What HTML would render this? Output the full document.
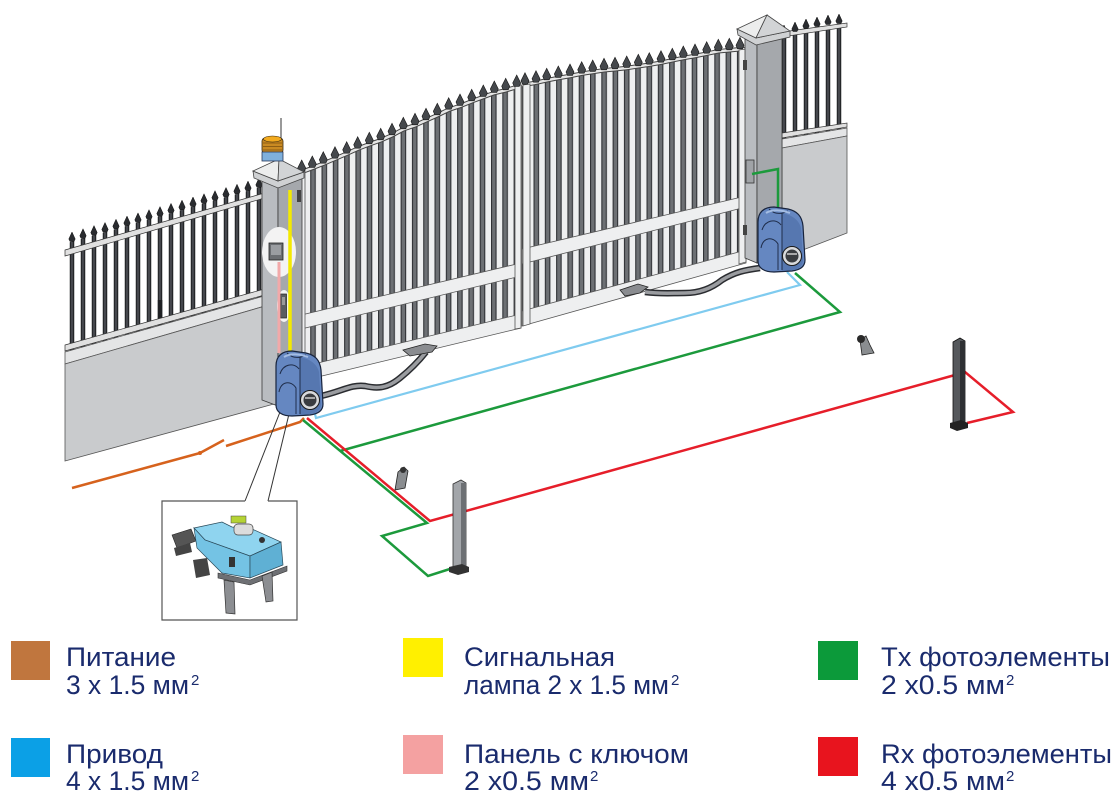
<!DOCTYPE html>
<html><head><meta charset="utf-8">
<style>
html,body{margin:0;padding:0;background:#fff;}
svg{display:block;}
.lg{font-family:"Liberation Sans","DejaVu Sans",sans-serif;fill:#1a2b6d;font-size:27px;}
.sp{font-family:"Liberation Sans","DejaVu Sans",sans-serif;fill:#1a2b6d;font-size:15px;}
</style></head><body>
<svg width="1117" height="796" viewBox="0 0 1117 796" xmlns="http://www.w3.org/2000/svg">
<defs>
<pattern id="pfl" patternUnits="userSpaceOnUse" x="69.75" y="0" width="11" height="20"><rect width="4.5" height="20" fill="#1f2124"/><rect x="1.2" width="2" height="20" fill="#4a4d52"/></pattern>
<pattern id="pfr" patternUnits="userSpaceOnUse" x="792.75" y="0" width="11" height="20"><rect width="4.5" height="20" fill="#1f2124"/><rect x="1.2" width="2" height="20" fill="#4a4d52"/></pattern>
<pattern id="pgl" patternUnits="userSpaceOnUse" x="298.9" y="0" width="11.3" height="20"><rect width="5.6" height="20" fill="#2f3135"/><rect x="1.1" width="3.4" height="20" fill="#6d7074"/></pattern>
<pattern id="pgr" patternUnits="userSpaceOnUse" x="522.2" y="0" width="11.3" height="20"><rect width="5.6" height="20" fill="#2f3135"/><rect x="1.1" width="3.4" height="20" fill="#6d7074"/></pattern>
</defs>
<rect width="1117" height="796" fill="#fff"/>

<!-- LEFT FENCE -->
<polygon points="67,243 264,186 264,296 67,352" fill="url(#pfl)"/>
<rect x="157.8" y="300" width="4.5" height="42" fill="#1f2124"/>
<polygon points="65,250 268,192 268,197 65,256" fill="#e0e0e0" stroke="#333" stroke-width="0.7"/>
<polygon points="65,345 268,288 268,294 65,351" fill="#e0e0e0" stroke="#333" stroke-width="0.7"/>
<path fill="#2a2c30" stroke="#111" stroke-width="0.5" d="M72,232l3.2,7l-1.2,2.5h-4l-1.2,-2.5zM83,228.8l3.2,7l-1.2,2.5h-4l-1.2,-2.5zM94,225.6l3.2,7l-1.2,2.5h-4l-1.2,-2.5zM105,222.5l3.2,7l-1.2,2.5h-4l-1.2,-2.5zM116,219.3l3.2,7l-1.2,2.5h-4l-1.2,-2.5zM127,216.1l3.2,7l-1.2,2.5h-4l-1.2,-2.5zM138,212.9l3.2,7l-1.2,2.5h-4l-1.2,-2.5zM149,209.7l3.2,7l-1.2,2.5h-4l-1.2,-2.5zM160,206.6l3.2,7l-1.2,2.5h-4l-1.2,-2.5zM171,203.4l3.2,7l-1.2,2.5h-4l-1.2,-2.5zM182,200.2l3.2,7l-1.2,2.5h-4l-1.2,-2.5zM193,197l3.2,7l-1.2,2.5h-4l-1.2,-2.5zM204,193.8l3.2,7l-1.2,2.5h-4l-1.2,-2.5zM215,190.7l3.2,7l-1.2,2.5h-4l-1.2,-2.5zM226,187.5l3.2,7l-1.2,2.5h-4l-1.2,-2.5zM237,184.3l3.2,7l-1.2,2.5h-4l-1.2,-2.5zM248,181.1l3.2,7l-1.2,2.5h-4l-1.2,-2.5zM259,177.9l3.2,7l-1.2,2.5h-4l-1.2,-2.5z"/>
<polygon points="65,352 264,296 272,304 65,364" fill="#e4e5e6" stroke="#555" stroke-width="0.8"/>
<polygon points="65,364 272,304 274,404 65,461" fill="#c9cbcd" stroke="#555" stroke-width="0.8"/>

<!-- RIGHT FENCE -->
<polygon points="782,34 847,24 847,128 782,139" fill="url(#pfr)"/>
<polygon points="782,32 847,23 847,27 782,37" fill="#e0e0e0" stroke="#333" stroke-width="0.7"/>
<polygon points="782,133 847,123 847,127 782,138" fill="#e0e0e0" stroke="#333" stroke-width="0.7"/>
<path fill="#2a2c30" stroke="#111" stroke-width="0.5" d="M784,25l3.2,7l-1.2,2.5h-4l-1.2,-2.5zM795,22l3.2,7l-1.2,2.5h-4l-1.2,-2.5zM806,19l3.2,7l-1.2,2.5h-4l-1.2,-2.5zM817,17l3.2,7l-1.2,2.5h-4l-1.2,-2.5zM828,15l3.2,7l-1.2,2.5h-4l-1.2,-2.5zM839,14l3.2,7l-1.2,2.5h-4l-1.2,-2.5z"/>
<polygon points="782,139 847,128 847,136 782,148" fill="#e4e5e6" stroke="#555" stroke-width="0.8"/>
<polygon points="782,148 847,136 847,233 782,258" fill="#c9cbcd" stroke="#555" stroke-width="0.8"/>

<!-- GATE LEFT LEAF -->
<polygon points="297,173 301.7,172 312.3,168 323.3,163.7 335,158.7 346.7,153.7 357.7,148.7 369.3,144.3 380.7,140.3 392,135.3 403.3,129.3 415,125.3 426,120.3 437.3,115.3 448.7,109.7 460,106 471.7,101.3 483.3,97 494.3,93 505.7,90.3 516.7,87 521,86 521,328 297,382" fill="#eeeff0" stroke="#555" stroke-width="0.8"/>
<polygon points="297,170 301.7,169 312.3,165 323.3,160.7 335,155.7 346.7,150.7 357.7,145.7 369.3,141.3 380.7,137.3 392,132.3 403.3,126.3 415,122.3 426,117.3 437.3,112.3 448.7,106.7 460,103 471.7,98.3 483.3,94 494.3,90 505.7,87.3 516.7,84 521,83 521,263 297,316" fill="url(#pgl)"/>
<polygon points="297,330 521,276 521,314 297,368" fill="url(#pgl)"/>
<polyline points="297,173 301.7,172 312.3,168 323.3,163.7 335,158.7 346.7,153.7 357.7,148.7 369.3,144.3 380.7,140.3 392,135.3 403.3,129.3 415,125.3 426,120.3 437.3,115.3 448.7,109.7 460,106 471.7,101.3 483.3,97 494.3,93 505.7,90.3 516.7,87 521,86" fill="none" stroke="#444" stroke-width="4.5"/>
<polyline points="297,173 301.7,172 312.3,168 323.3,163.7 335,158.7 346.7,153.7 357.7,148.7 369.3,144.3 380.7,140.3 392,135.3 403.3,129.3 415,125.3 426,120.3 437.3,115.3 448.7,109.7 460,106 471.7,101.3 483.3,97 494.3,93 505.7,90.3 516.7,87 521,86" fill="none" stroke="#e6e6e6" stroke-width="2.5"/>
<g stroke="#555" stroke-width="0.8"><line x1="297" y1="316" x2="521" y2="263"/><line x1="297" y1="330" x2="521" y2="276"/><line x1="297" y1="368" x2="521" y2="314"/></g>
<polygon points="297,172 305,170 305,380 297,382" fill="#eeeff0" stroke="#555" stroke-width="0.8"/>
<polygon points="515,86 521,85 521,328 515,329" fill="#eeeff0" stroke="#555" stroke-width="0.8"/>

<!-- GATE RIGHT LEAF -->
<polygon points="522,85 525,84.7 536,82.7 546.7,80.3 558.3,78 570,76 581.7,73.7 592.7,72 604,70.3 615,69.3 626.7,68 638.3,66.3 649.3,64.7 661,62.7 672.3,60.3 683.3,58 695,56 706.7,53.7 718.3,51.3 729.3,50.3 740,49.3 746,49 746,263 522,326" fill="#eeeff0" stroke="#555" stroke-width="0.8"/>
<polygon points="522,82 525,81.7 536,79.7 546.7,77.3 558.3,75 570,73 581.7,70.7 592.7,69 604,67.3 615,66.3 626.7,65 638.3,63.3 649.3,61.7 661,59.7 672.3,57.3 683.3,55 695,53 706.7,50.7 718.3,48.3 729.3,47.3 740,46.3 746,46 746,196 522,249" fill="url(#pgr)"/>
<polygon points="522,264 746,207 746,250 522,311" fill="url(#pgr)"/>
<polyline points="522,85 525,84.7 536,82.7 546.7,80.3 558.3,78 570,76 581.7,73.7 592.7,72 604,70.3 615,69.3 626.7,68 638.3,66.3 649.3,64.7 661,62.7 672.3,60.3 683.3,58 695,56 706.7,53.7 718.3,51.3 729.3,50.3 740,49.3 746,49" fill="none" stroke="#444" stroke-width="4.5"/>
<polyline points="522,85 525,84.7 536,82.7 546.7,80.3 558.3,78 570,76 581.7,73.7 592.7,72 604,70.3 615,69.3 626.7,68 638.3,66.3 649.3,64.7 661,62.7 672.3,60.3 683.3,58 695,56 706.7,53.7 718.3,51.3 729.3,50.3 740,49.3 746,49" fill="none" stroke="#e6e6e6" stroke-width="2.5"/>
<g stroke="#555" stroke-width="0.8"><line x1="522" y1="249" x2="746" y2="196"/><line x1="522" y1="264" x2="746" y2="207"/><line x1="522" y1="311" x2="746" y2="250"/></g>
<polygon points="523,85 530,84 530,324 523,326" fill="#eeeff0" stroke="#555" stroke-width="0.8"/>
<polygon points="739,50 746,49 746,262 739,264" fill="#eeeff0" stroke="#555" stroke-width="0.8"/>

<!-- GATE SPIKES -->
<path fill="#45484c" stroke="#151515" stroke-width="0.6" d="M301.7,160l4,8l-1.5,3.5h-5l-1.5,-3.5zM312.3,156l4,8l-1.5,3.5h-5l-1.5,-3.5zM323.3,151.7l4,8l-1.5,3.5h-5l-1.5,-3.5zM335,146.7l4,8l-1.5,3.5h-5l-1.5,-3.5zM346.7,141.7l4,8l-1.5,3.5h-5l-1.5,-3.5zM357.7,136.7l4,8l-1.5,3.5h-5l-1.5,-3.5zM369.3,132.3l4,8l-1.5,3.5h-5l-1.5,-3.5zM380.7,128.3l4,8l-1.5,3.5h-5l-1.5,-3.5zM392,123.3l4,8l-1.5,3.5h-5l-1.5,-3.5zM403.3,117.3l4,8l-1.5,3.5h-5l-1.5,-3.5zM415,113.3l4,8l-1.5,3.5h-5l-1.5,-3.5zM426,108.3l4,8l-1.5,3.5h-5l-1.5,-3.5zM437.3,103.3l4,8l-1.5,3.5h-5l-1.5,-3.5zM448.7,97.7l4,8l-1.5,3.5h-5l-1.5,-3.5zM460,94l4,8l-1.5,3.5h-5l-1.5,-3.5zM471.7,89.3l4,8l-1.5,3.5h-5l-1.5,-3.5zM483.3,85l4,8l-1.5,3.5h-5l-1.5,-3.5zM494.3,81l4,8l-1.5,3.5h-5l-1.5,-3.5zM505.7,78.3l4,8l-1.5,3.5h-5l-1.5,-3.5zM516.7,75l4,8l-1.5,3.5h-5l-1.5,-3.5zM525,72.7l4,8l-1.5,3.5h-5l-1.5,-3.5zM536,70.7l4,8l-1.5,3.5h-5l-1.5,-3.5zM546.7,68.3l4,8l-1.5,3.5h-5l-1.5,-3.5zM558.3,66l4,8l-1.5,3.5h-5l-1.5,-3.5zM570,64l4,8l-1.5,3.5h-5l-1.5,-3.5zM581.7,61.7l4,8l-1.5,3.5h-5l-1.5,-3.5zM592.7,60l4,8l-1.5,3.5h-5l-1.5,-3.5zM604,58.3l4,8l-1.5,3.5h-5l-1.5,-3.5zM615,57.3l4,8l-1.5,3.5h-5l-1.5,-3.5zM626.7,56l4,8l-1.5,3.5h-5l-1.5,-3.5zM638.3,54.3l4,8l-1.5,3.5h-5l-1.5,-3.5zM649.3,52.7l4,8l-1.5,3.5h-5l-1.5,-3.5zM661,50.7l4,8l-1.5,3.5h-5l-1.5,-3.5zM672.3,48.3l4,8l-1.5,3.5h-5l-1.5,-3.5zM683.3,46l4,8l-1.5,3.5h-5l-1.5,-3.5zM695,44l4,8l-1.5,3.5h-5l-1.5,-3.5zM706.7,41.7l4,8l-1.5,3.5h-5l-1.5,-3.5zM718.3,39.3l4,8l-1.5,3.5h-5l-1.5,-3.5zM729.3,38.3l4,8l-1.5,3.5h-5l-1.5,-3.5zM740,37.3l4,8l-1.5,3.5h-5l-1.5,-3.5z"/>

<!-- LEFT PILLAR -->
<polygon points="262,178 278,186 278,406 262,400" fill="#b9bcc0" stroke="#3a3a3a" stroke-width="0.8"/>
<polygon points="278,186 302,178 302,398 278,406" fill="#a5a8ac" stroke="#3a3a3a" stroke-width="0.8"/>
<polygon points="253,171 278,181 304,172 304,178 278,188 254,178" fill="#cfd1d3" stroke="#444" stroke-width="0.8"/>
<polygon points="253,171 279,159 278,181" fill="#eceded" stroke="#444" stroke-width="0.8"/>
<polygon points="279,159 304,172 278,181" fill="#d2d4d6" stroke="#444" stroke-width="0.8"/>
<rect x="297" y="190" width="4" height="12" fill="#444"/>
<!-- lamp -->
<line x1="281" y1="118" x2="281" y2="139" stroke="#333" stroke-width="1"/>
<rect x="262" y="138" width="21" height="15" rx="3" fill="#c98a22" stroke="#3a2a10" stroke-width="0.8"/>
<g stroke="#7a4f10" stroke-width="0.7"><line x1="263" y1="143" x2="282" y2="143"/><line x1="263" y1="146.5" x2="282" y2="146.5"/><line x1="263" y1="150" x2="282" y2="150"/></g>
<ellipse cx="272.5" cy="139" rx="9" ry="3" fill="#f2aa1e" stroke="#3a2a10" stroke-width="0.6"/>
<rect x="262" y="152" width="21" height="9" fill="#7fb0dc" stroke="#2a3a5a" stroke-width="0.8"/>
<!-- keypad -->
<ellipse cx="279" cy="252" rx="17" ry="25" fill="#f3f3f3"/>
<rect x="269" y="243" width="14" height="17" fill="#6b6e72" stroke="#222" stroke-width="0.8"/>
<rect x="271" y="245" width="10" height="10" fill="#9a9da1"/>
<!-- photocell on pillar -->
<ellipse cx="284" cy="306" rx="7" ry="16" fill="#f3f3f3"/>
<rect x="280.5" y="294" width="6" height="24" fill="#5a5d61" stroke="#222" stroke-width="0.7"/>
<rect x="282" y="297" width="3" height="8" fill="#999"/>
<!-- yellow & pink lines -->
<line x1="279" y1="262" x2="279" y2="353" stroke="#f2a9a9" stroke-width="3"/>
<line x1="290" y1="190" x2="290" y2="353" stroke="#f4ea00" stroke-width="3.5"/>

<!-- RIGHT PILLAR -->
<polygon points="745,39 757,44 757,263 745,258" fill="#b9bcc0" stroke="#3a3a3a" stroke-width="0.8"/>
<polygon points="757,44 782,35 782,253 757,263" fill="#a5a8ac" stroke="#3a3a3a" stroke-width="0.8"/>
<polygon points="737,29 756,38 790,31 790,37 756,45 738,35" fill="#cfd1d3" stroke="#444" stroke-width="0.8"/>
<polygon points="737,29 767,15 756,38" fill="#eceded" stroke="#444" stroke-width="0.8"/>
<polygon points="767,15 790,31 756,38" fill="#d2d4d6" stroke="#444" stroke-width="0.8"/>
<rect x="743" y="60" width="4" height="10" fill="#444"/>
<rect x="743" y="225" width="4" height="10" fill="#444"/>
<rect x="746" y="160" width="8" height="23" fill="#a0a3a7" stroke="#333" stroke-width="0.8"/>

<!-- WIRES -->
<polyline points="72,488 200,453" fill="none" stroke="#d6621d" stroke-width="2.5"/>
<line x1="200" y1="453" x2="224" y2="440" stroke="#d6621d" stroke-width="2.5"/>
<circle cx="200" cy="453" r="2" fill="#d6621d"/>
<polyline points="226,446 300,422 304,418" fill="none" stroke="#d6621d" stroke-width="2.5"/>
<polyline points="314,410 316,418 800,285 787,272" fill="none" stroke="#7fcbef" stroke-width="2.2"/>
<polyline points="752,174 778,169 778,208" fill="none" stroke="#1c9a3c" stroke-width="2.5"/>
<polyline points="795,273 840,312 340,451" fill="none" stroke="#1c9a3c" stroke-width="2.5"/>
<polyline points="303,420 427,523 382,536 428,576 453,568" fill="none" stroke="#1c9a3c" stroke-width="2.5"/>
<polyline points="307,418 430,521 955,375 965,372 1013,412 967,423" fill="none" stroke="#e61e2a" stroke-width="2.5"/>
<!-- callout -->
<line x1="280" y1="412" x2="245" y2="501" stroke="#333" stroke-width="1"/>
<line x1="289" y1="414" x2="268" y2="501" stroke="#333" stroke-width="1"/>

<!-- ARMS -->
<path d="M321,396 C340,392 352,384 365,386 C378,389 388,388 400,378 C410,370 418,362 426,352" fill="none" stroke="#2a2c30" stroke-width="6.5"/>
<path d="M321,396 C340,392 352,384 365,386 C378,389 388,388 400,378 C410,370 418,362 426,352" fill="none" stroke="#9a9ca0" stroke-width="3.5"/>
<polygon points="403,350 425,344 437,346 432,352 410,356" fill="#8a8c90" stroke="#222" stroke-width="0.8"/>
<path d="M760,268 C745,270 735,272 722,280 C712,288 700,293 685,293 C670,293 660,294 645,292" fill="none" stroke="#2a2c30" stroke-width="6.5"/>
<path d="M760,268 C745,270 735,272 722,280 C712,288 700,293 685,293 C670,293 660,294 645,292" fill="none" stroke="#9a9ca0" stroke-width="3.5"/>
<polygon points="620,290 638,284 648,287 640,293 625,296" fill="#8a8c90" stroke="#222" stroke-width="0.8"/>

<!-- MOTORS -->
<g>
<path d="M276,366 C276,356 282,351 292,351 L306,353 C315,355 320,360 321,370 L323,404 C323,411 318,414 310,415 L292,416 C282,416 276,412 276,405 Z" fill="#6587c1" stroke="#18243d" stroke-width="1.2"/>
<path d="M300,357 C310,359 317,364 319,372 L321,404 C321,410 317,413 310,414 L300,415 Z" fill="#5677b0"/>
<path d="M280,374 C283,364 294,362 299,369 M279,392 C281,381 291,380 296,388 L296,414 M287,353 C292,358 298,359 306,355 M300,357 L300,414" stroke="#1f2d4a" fill="none" stroke-width="1"/>
<path d="M284,357 C290,353 300,354 308,357" stroke="#a4bde3" stroke-width="2" fill="none"/>
<circle cx="310" cy="400" r="9.5" fill="#d9dadc" stroke="#1a1a1a" stroke-width="1"/>
<circle cx="310" cy="400" r="6.5" fill="#3a3c40"/>
<line x1="305" y1="398" x2="315" y2="398" stroke="#ccc" stroke-width="1.5"/>
</g>
<g transform="translate(482,-144)">
<path d="M276,366 C276,356 282,351 292,351 L306,353 C315,355 320,360 321,370 L323,404 C323,411 318,414 310,415 L292,416 C282,416 276,412 276,405 Z" fill="#6587c1" stroke="#18243d" stroke-width="1.2"/>
<path d="M300,357 C310,359 317,364 319,372 L321,404 C321,410 317,413 310,414 L300,415 Z" fill="#5677b0"/>
<path d="M280,374 C283,364 294,362 299,369 M279,392 C281,381 291,380 296,388 L296,414 M287,353 C292,358 298,359 306,355 M300,357 L300,414" stroke="#1f2d4a" fill="none" stroke-width="1"/>
<path d="M284,357 C290,353 300,354 308,357" stroke="#a4bde3" stroke-width="2" fill="none"/>
<circle cx="310" cy="400" r="9.5" fill="#d9dadc" stroke="#1a1a1a" stroke-width="1"/>
<circle cx="310" cy="400" r="6.5" fill="#3a3c40"/>
<line x1="305" y1="398" x2="315" y2="398" stroke="#ccc" stroke-width="1.5"/>
</g>

<!-- PHOTOCELLS -->
<polygon points="453,484 461,480 466,483 466,568 455,570 453,568" fill="#a3a6aa" stroke="#333" stroke-width="0.8"/>
<rect x="461" y="483" width="5" height="85" fill="#6d7074"/>
<polygon points="449,567 462,564 469,567 469,572 458,575 449,572" fill="#333"/>
<polygon points="953,342 960,338 965,341 965,426 955,428 953,426" fill="#55585c" stroke="#111" stroke-width="0.8"/>
<rect x="960" y="341" width="5" height="85" fill="#2e3033"/>
<polygon points="950,423 961,420 968,423 968,428 957,431 950,428" fill="#222"/>
<polygon points="398,472 404,467 408,471 405,488 395,490" fill="#8a8d90" stroke="#222" stroke-width="0.8"/>
<circle cx="403" cy="470" r="3" fill="#333"/>
<polygon points="860,340 866,336 870,345 874,353 862,355" fill="#8a8d90" stroke="#222" stroke-width="0.8"/>
<circle cx="861" cy="339" r="4" fill="#2a2a2a"/>

<!-- INSET -->
<path d="M245,501 H162 V620 H297 V501 H268" fill="none" stroke="#555" stroke-width="1.2"/>
<polygon points="172,535 191,529 196,541 177,548" fill="#555" stroke="#222" stroke-width="0.6"/>
<polygon points="174,548 190,543 192,552 176,556" fill="#444"/>
<polygon points="194,528 222,522 232,527 252,529 281,542 250,556 205,540" fill="#8fd4ef" stroke="#2a4a5a" stroke-width="0.7"/>
<polygon points="194,528 205,540 250,556 250,578 222,573 197,548" fill="#74c3e4" stroke="#2a4a5a" stroke-width="0.7"/>
<polygon points="250,556 281,542 283,565 250,578" fill="#5fb0d4" stroke="#2a4a5a" stroke-width="0.7"/>
<polygon points="218,573 250,580 287,566 287,571 250,585 218,578" fill="#6e7074" stroke="#333" stroke-width="0.6"/>
<polygon points="224,580 234,582 235,614 226,613" fill="#8c8e92" stroke="#333" stroke-width="0.7"/>
<polygon points="262,576 272,572 273,601 266,602" fill="#8c8e92" stroke="#333" stroke-width="0.7"/>
<rect x="231" y="516" width="15" height="7" fill="#b5d334" stroke="#444" stroke-width="0.5"/>
<rect x="234" y="524" width="19" height="11" rx="4" fill="#dcdcdc" stroke="#444" stroke-width="0.7"/>
<polygon points="193,560 207,558 210,575 196,578" fill="#444"/>
<circle cx="262" cy="540" r="3" fill="#333"/>
<rect x="229" y="557" width="6" height="10" fill="#333"/>

<!-- LEGEND -->
<rect x="11" y="641" width="39" height="39" fill="#c0763e"/>
<rect x="11" y="738" width="39" height="39" fill="#0ba0e6"/>
<rect x="403" y="638" width="40" height="39" fill="#fff000"/>
<rect x="403" y="735" width="40" height="39" fill="#f4a1a1"/>
<rect x="818" y="641" width="40" height="39" fill="#0c9a3a"/>
<rect x="818" y="737" width="40" height="39" fill="#e8141e"/>

<text class="lg" x="66" y="666" textLength="110" lengthAdjust="spacingAndGlyphs">Питание</text>
<text class="lg" x="66" y="694" textLength="123" lengthAdjust="spacingAndGlyphs">3 x 1.5 мм</text>
<text class="sp" x="191" y="685">2</text>
<text class="lg" x="66" y="763" textLength="97" lengthAdjust="spacingAndGlyphs">Привод</text>
<text class="lg" x="66" y="790" textLength="123" lengthAdjust="spacingAndGlyphs">4 x 1.5 мм</text>
<text class="sp" x="191" y="781">2</text>

<text class="lg" x="464" y="666" textLength="151" lengthAdjust="spacingAndGlyphs">Сигнальная</text>
<text class="lg" x="464" y="694" textLength="205" lengthAdjust="spacingAndGlyphs">лампа 2 x 1.5 мм</text>
<text class="sp" x="671" y="685">2</text>
<text class="lg" x="464" y="763" textLength="225" lengthAdjust="spacingAndGlyphs">Панель с ключом</text>
<text class="lg" x="464" y="790" textLength="125" lengthAdjust="spacingAndGlyphs">2 x0.5 мм</text>
<text class="sp" x="590" y="781">2</text>

<text class="lg" x="881" y="666" textLength="229" lengthAdjust="spacingAndGlyphs">Tx фотоэлементы</text>
<text class="lg" x="881" y="694" textLength="124" lengthAdjust="spacingAndGlyphs">2 x0.5 мм</text>
<text class="sp" x="1006" y="685">2</text>
<text class="lg" x="881" y="763" textLength="231" lengthAdjust="spacingAndGlyphs">Rx фотоэлементы</text>
<text class="lg" x="881" y="790" textLength="124" lengthAdjust="spacingAndGlyphs">4 x0.5 мм</text>
<text class="sp" x="1006" y="781">2</text>
</svg>
</body></html>
